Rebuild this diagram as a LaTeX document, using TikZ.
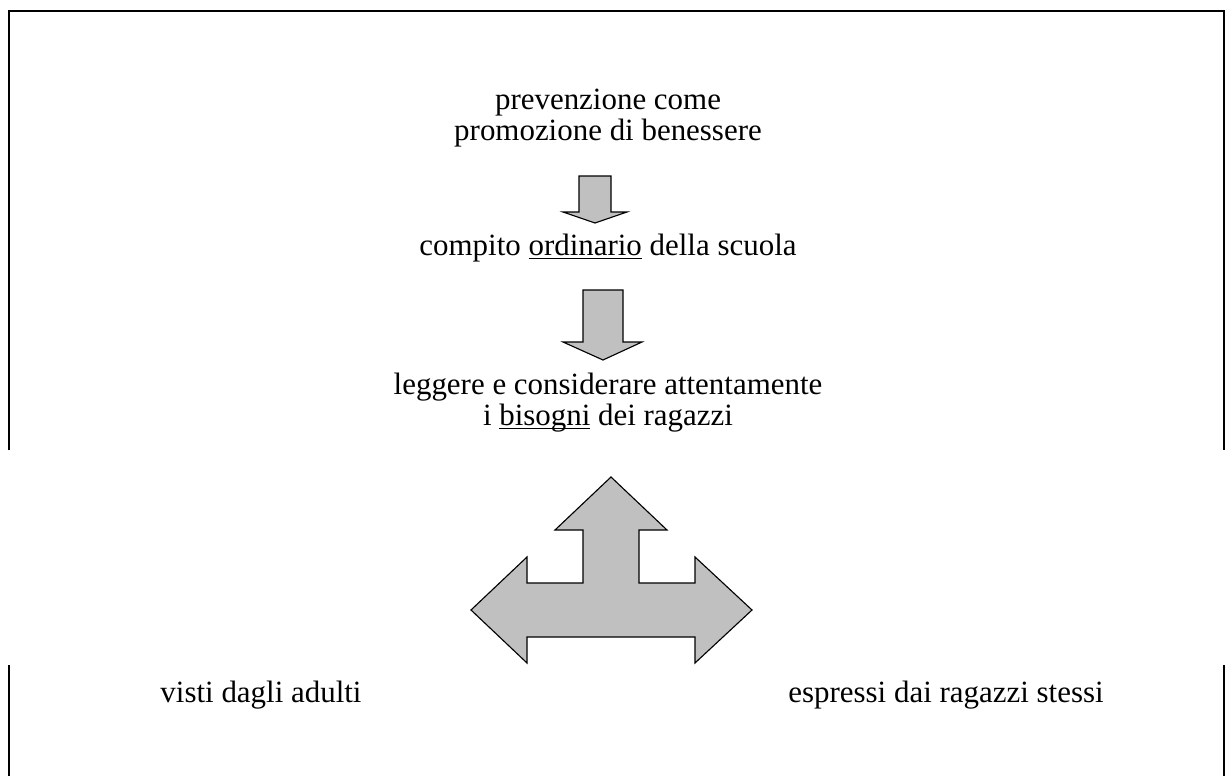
\documentclass[tikz,border=0pt]{standalone}
\usepackage{fontspec}
\setmainfont{Liberation Serif}
\usepackage{tikz}
\usetikzlibrary{positioning}

\tikzset{
  txt/.style={anchor=base, inner sep=0pt, font=\fontsize{22}{25}\selectfont},
  blockarrow/.style={draw=black, fill=arrowgray, line width=0.8pt, line join=miter},
  frameline/.style={line width=1.5pt}
}
\definecolor{arrowgray}{RGB}{192,192,192}
\newlength{\undlwd}
\newcommand{\undl}[1]{\settowidth{\undlwd}{#1}\rlap{\rule[-3pt]{\undlwd}{1pt}}#1}

\begin{document}
\begin{tikzpicture}[x=0.025cm, y=-0.025cm]
\useasboundingbox (0,0) rectangle (1226,776);

% frame, open on both sides
\draw [frameline] (9,450) -- (9,11) -- (1224,11) -- (1224,450);
\draw [frameline] (9,665) -- (9,776);
\draw [frameline] (1224,665) -- (1224,776);

% texts
\node [txt] (prev1) at (608,109) {prevenzione come};
\node [txt] (prev2) at (608,140) {promozione di benessere};
\node [txt] (compito) at (608,255) {compito \undl{ordinario} della scuola};
\node [txt] (leggere) at (608,394) {leggere e considerare attentamente};
\node [txt] (bisogni) at (608,425) {i \undl{bisogni} dei ragazzi};
\node [txt] (adulti) at (261,702) {visti dagli adulti};
\node [txt] (ragazzi) at (946,702) {espressi dai ragazzi stessi};

% down arrows
\draw [blockarrow] (579,176) -- (611,176) -- (611,212) -- (627,212) -- (595,223)
  -- (563,212) -- (579,212) -- cycle;
\draw [blockarrow] (583,290) -- (623,290) -- (623,342) -- (642,342) -- (603,360)
  -- (563,342) -- (583,342) -- cycle;

% three-way arrow
\draw [blockarrow] (611,477) -- (667,530) -- (639,530) -- (639,583) -- (695,583)
  -- (695,557) -- (752,610) -- (695,663) -- (695,637) -- (527,637) -- (527,663)
  -- (471,610) -- (527,557) -- (527,583) -- (583,583) -- (583,530) -- (555,530) -- cycle;

\end{tikzpicture}
\end{document}
